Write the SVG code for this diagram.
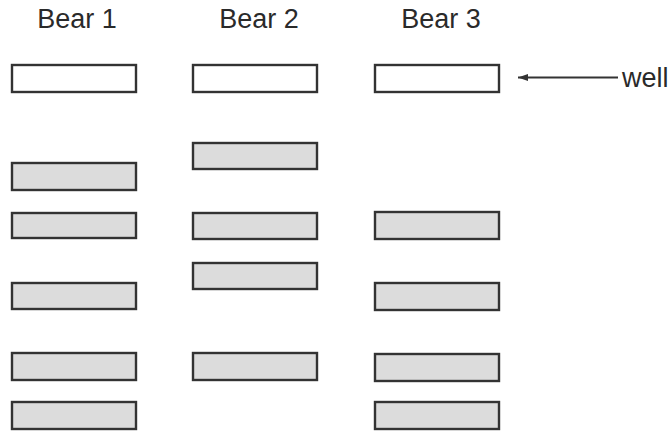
<svg xmlns="http://www.w3.org/2000/svg" width="671" height="431" viewBox="0 0 671 431">
<style>
.lbl{font-family:"Liberation Sans",Arial,sans-serif;font-size:27px;fill:#2a2a2a}
.w{fill:#ffffff;stroke:#333;stroke-width:2.4}
.g{fill:#dcdcdc;stroke:#333;stroke-width:2.4}
</style>
<defs>
<marker id="ah" viewBox="0 0 10 7" refX="10" refY="3.5" markerWidth="10" markerHeight="7" markerUnits="userSpaceOnUse" orient="auto">
<path d="M0,0 L10,3.5 L0,7 Z" fill="#333"/>
</marker>
</defs>
<rect width="671" height="431" fill="#fff"/>
<g id="labels">
<text class="lbl" x="77" y="28" text-anchor="middle">Bear 1</text>
<text class="lbl" x="259" y="28" text-anchor="middle">Bear 2</text>
<text class="lbl" x="441" y="28" text-anchor="middle">Bear 3</text>
<text class="lbl" x="622" y="87">well</text>
</g>
<g id="bear1">
<rect class="w" x="12" y="65" width="124" height="27"/>
<rect class="g" x="12" y="163" width="124" height="27"/>
<rect class="g" x="12" y="213" width="124" height="25"/>
<rect class="g" x="12" y="283" width="124" height="26"/>
<rect class="g" x="12" y="353" width="124" height="27"/>
<rect class="g" x="12" y="402" width="124" height="27"/>
</g>
<g id="bear2">
<rect class="w" x="193" y="65" width="124" height="27"/>
<rect class="g" x="193" y="143" width="124" height="26"/>
<rect class="g" x="193" y="213" width="124" height="26"/>
<rect class="g" x="193" y="263" width="124" height="26"/>
<rect class="g" x="193" y="353" width="124" height="27"/>
</g>
<g id="bear3">
<rect class="w" x="375" y="65" width="124" height="27"/>
<rect class="g" x="375" y="212" width="124" height="27"/>
<rect class="g" x="375" y="283" width="124" height="27"/>
<rect class="g" x="375" y="354" width="124" height="27"/>
<rect class="g" x="375" y="402" width="124" height="27"/>
</g>
<g id="connectors">
<line x1="618" y1="77.5" x2="518" y2="77.5" stroke="#333" stroke-width="1.8" marker-end="url(#ah)"/>
</g>
</svg>
